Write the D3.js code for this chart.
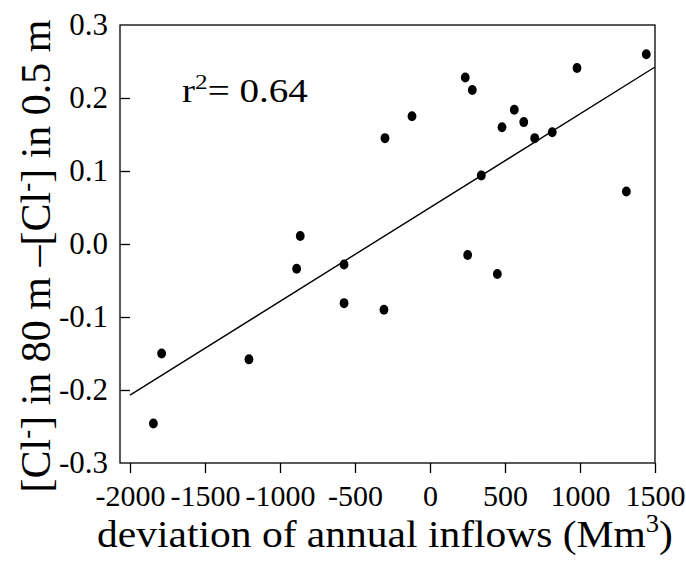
<!DOCTYPE html>
<html>
<head>
<meta charset="utf-8">
<script src="https://cdn.jsdelivr.net/npm/d3@7"></script>
<style>
  body { margin: 0; background: #fff; }
  svg text { font-family: "Liberation Serif", "DejaVu Serif", serif; fill: #000; }
</style>
</head>
<body>
<svg id="chart" width="686" height="566"></svg>
<script>
// inflow deviation (Mm3) vs chloride difference
const inflow = [-1844, -1789, -1207, -889, -865, -573, -573, -300, -307, -120,
  235, 282, 251, 449, 342, 480, 562, 625, 698, 815, 980, 1309, 1442];
const dCl = [-0.246, -0.150, -0.158, -0.034, 0.011, -0.028, -0.081, 0.145, -0.090, 0.175,
  0.228, 0.211, -0.015, -0.041, 0.094, 0.160, 0.184, 0.167, 0.145, 0.153, 0.241, 0.072, 0.260];
const fitX = [-2000, 1500];
const fitSlope = 0.0001284, fitIntercept = 0.0499;
const xTicks = [-2000, -1500, -1000, -500, 0, 500, 1000, 1500];
const yTicks = [-0.3, -0.2, -0.1, 0.0, 0.1, 0.2, 0.3];

const svg = d3.select('#chart');
const L = 120, R = 655, T = 25, B = 463;

const x = d3.scaleLinear().domain([-2000, 1500]).range([130, 655]);
const y = d3.scaleLinear().domain([-0.3, 0.3]).range([B, T]);

// frame
svg.append('rect').attr('x', L).attr('y', T).attr('width', R - L).attr('height', B - T)
  .attr('fill', 'none').attr('stroke', '#000').attr('stroke-width', 1.3);

// x axis
const xa = svg.append('g').attr('transform', `translate(0,${B})`)
  .call(d3.axisBottom(x).tickValues(xTicks).tickSize(10).tickPadding(12));
xa.select('.domain').remove();
xa.selectAll('line').attr('stroke-width', 1.3);
xa.selectAll('text').style('font-size', '30px').style('font-family', '"Liberation Serif", serif')
  .text(d => String(d));

// y axis, ticks pointing inward
const ya = svg.append('g').attr('transform', `translate(${L},0)`)
  .call(d3.axisLeft(y).tickValues(yTicks).tickSize(0).tickPadding(12));
ya.select('.domain').remove();
ya.selectAll('.tick').filter(d => d > -0.3 && d < 0.3).append('line')
  .attr('x1', 0).attr('x2', 10).attr('stroke', '#000').attr('stroke-width', 1.3);
ya.selectAll('text').style('font-size', '31px').style('font-family', '"Liberation Serif", serif')
  .text(d => d3.format('.1f')(d).replace('−', '-'));

// regression line
svg.append('line')
  .attr('x1', x(fitX[0])).attr('y1', y(fitIntercept + fitSlope * fitX[0]))
  .attr('x2', x(fitX[1])).attr('y2', y(fitIntercept + fitSlope * fitX[1]))
  .attr('stroke', '#000').attr('stroke-width', 1.4);

// points
svg.append('g').selectAll('ellipse').data(inflow).join('ellipse')
  .attr('cx', d => x(d)).attr('cy', (d, i) => y(dCl[i]))
  .attr('rx', 4.4).attr('ry', 5).attr('fill', '#000');

// r2 annotation
const rt = svg.append('text').attr('transform', 'translate(182,102) scale(1.15,1)')
  .style('font-size', '34px');
rt.append('tspan').text('r');
rt.append('tspan').attr('dy', -13).style('font-size', '22px').text('2');
rt.append('tspan').attr('dy', 13).text('= 0.64');

// axis titles
const xt = svg.append('text').attr('transform', 'translate(385,547) scale(1.065,1)')
  .attr('text-anchor', 'middle').style('font-size', '39px');
xt.append('tspan').text('deviation of annual inflows (Mm');
xt.append('tspan').attr('dy', -15).style('font-size', '25px').text('3');
xt.append('tspan').attr('dy', 15).text(')');

const yt = svg.append('text').attr('transform', 'translate(50,256) rotate(-90)')
  .attr('text-anchor', 'middle').style('font-size', '42px');
yt.append('tspan').text('[Cl');
yt.append('tspan').attr('dy', -15).style('font-size', '27px').text('-');
yt.append('tspan').attr('dy', 15).text('] in 80 m –[Cl');
yt.append('tspan').attr('dy', -15).style('font-size', '27px').text('-');
yt.append('tspan').attr('dy', 15).text('] in 0.5 m');
</script>
</body>
</html>
